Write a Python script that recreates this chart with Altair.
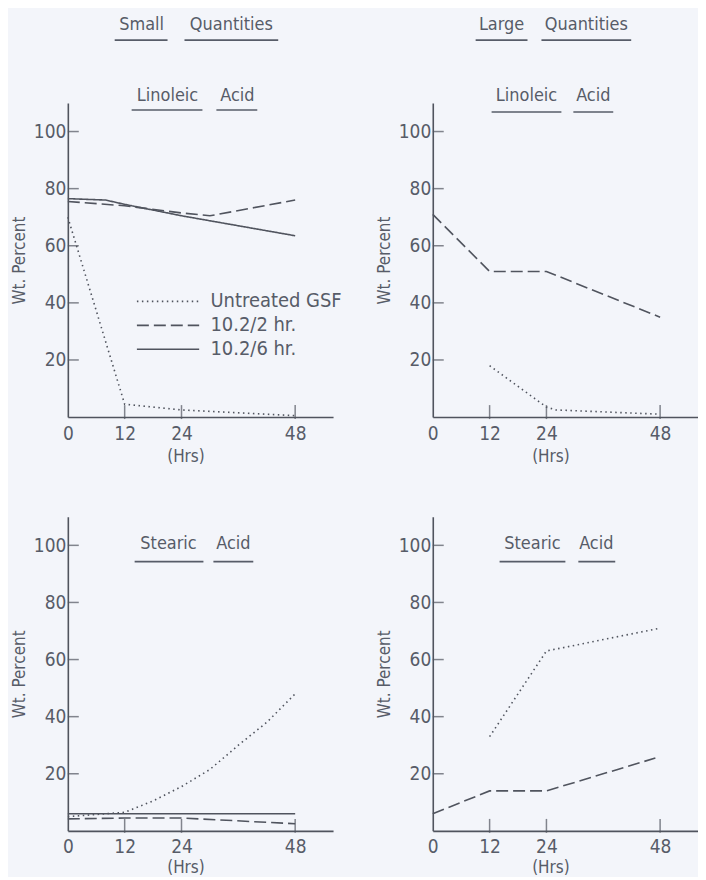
import altair as alt
import pandas as pd

SERIES = ["Untreated GSF", "10.2/2 hr.", "10.2/6 hr."]

# Small quantities - Linoleic acid
sl_untreated_h = [0, 12, 24, 48]
sl_untreated_v = [70, 4.5, 2.5, 0.5]
sl_2hr_h = [0, 12, 24, 30, 48]
sl_2hr_v = [75.5, 74, 71.5, 70.5, 76]
sl_6hr_h = [0, 8, 12, 24, 48]
sl_6hr_v = [76.5, 76, 74.5, 70.5, 63.5]

# Large quantities - Linoleic acid
ll_untreated_h = [12, 24, 26, 48]
ll_untreated_v = [18, 3.5, 2.5, 1]
ll_2hr_h = [0, 12, 24, 48]
ll_2hr_v = [71, 51, 51, 35]

# Small quantities - Stearic acid
ss_untreated_h = [0, 12, 18, 24, 30, 36, 42, 48]
ss_untreated_v = [5, 6.5, 10.5, 15.5, 21.5, 30, 38, 48]
ss_2hr_h = [0, 12, 24, 48]
ss_2hr_v = [4.2, 4.5, 4.5, 2.5]
ss_6hr_h = [0, 48]
ss_6hr_v = [6, 6]

# Large quantities - Stearic acid
ls_untreated_h = [12, 24, 48]
ls_untreated_v = [33, 63, 71]
ls_2hr_h = [0, 12, 24, 47]
ls_2hr_v = [6, 14, 14, 25.5]

Y_TICKS = [20, 40, 60, 80, 100]
X_LABELS = [0, 12, 24, 48]
X_TICKS = [12, 24, 48]

FONT = "DejaVu Sans Condensed, Liberation Sans Narrow, Roboto Condensed, Roboto, sans-serif"
INK = "#575c68"
LINE = "#50545e"
BG = "#f3f5fa"

W, H = 266, 315


def frame(parts):
    rows = []
    for name, hs, vs in parts:
        for h, v in zip(hs, vs):
            rows.append({"series": name, "h": h, "v": v})
    return pd.DataFrame(rows)


def panel(df, words, text_y, line_y, legend, title_y):
    x = alt.X("h:Q", scale=alt.Scale(domain=[0, 56], nice=False),
              axis=alt.Axis(values=X_LABELS, ticks=False, grid=False, labelPadding=7,
                            title="(Hrs)", titleX=118, titleY=title_y, titleAlign="center",
                            titleBaseline="middle", labelFlush=False))
    y = alt.Y("v:Q", scale=alt.Scale(domain=[0, 110], nice=False),
              axis=alt.Axis(values=Y_TICKS, ticks=False, grid=False, labelPadding=2,
                            title="Wt. Percent", titlePadding=5))
    if legend:
        leg = alt.Legend(title=None, orient="none", legendX=68, legendY=189,
                         symbolType="stroke", symbolSize=3900, symbolStrokeWidth=1.6,
                         symbolStrokeColor=LINE, labelFontSize=20, labelFont=FONT,
                         labelColor=INK, labelOffset=10, clipHeight=20, rowPadding=4,
                         labelLimit=300)
    else:
        leg = None
    lines = alt.Chart(df).mark_line(color=LINE, strokeWidth=1.6).encode(
        x=x, y=y,
        strokeDash=alt.StrokeDash("series:N",
                                  scale=alt.Scale(domain=SERIES,
                                                  range=[[1.5, 3.5], [12, 5], [1, 0]]),
                                  legend=leg),
    )
    yt = alt.Chart(pd.DataFrame({"h": [0] * len(Y_TICKS), "v": Y_TICKS})).mark_tick(
        orient="horizontal", size=11, thickness=1.5, xOffset=5.5, color=LINE
    ).encode(x="h:Q", y="v:Q")
    xt = alt.Chart(pd.DataFrame({"h": X_TICKS, "v": [0] * len(X_TICKS)})).mark_tick(
        orient="vertical", size=14, thickness=1.5, yOffset=-5, color=LINE
    ).encode(x="h:Q", y="v:Q")
    layers = [lines, yt, xt]
    one = pd.DataFrame({"k": [0]})
    for w, xc, x1, x2, size in words:
        layers.append(alt.Chart(one).mark_text(text=w, font=FONT, fontSize=size, color=INK,
                                               baseline="middle", align="center").encode(
            x=alt.value(xc), y=alt.value(text_y[w] if isinstance(text_y, dict) else text_y)))
        layers.append(alt.Chart(one).mark_rule(color=INK, strokeWidth=1.6).encode(
            x=alt.value(x1), x2=alt.value(x2),
            y=alt.value(line_y[w] if isinstance(line_y, dict) else line_y)))
    return alt.layer(*layers).properties(width=W, height=H)


df_sl = frame([(SERIES[0], sl_untreated_h, sl_untreated_v),
               (SERIES[1], sl_2hr_h, sl_2hr_v),
               (SERIES[2], sl_6hr_h, sl_6hr_v)])
df_ll = frame([(SERIES[0], ll_untreated_h, ll_untreated_v),
               (SERIES[1], ll_2hr_h, ll_2hr_v)])
df_ss = frame([(SERIES[0], ss_untreated_h, ss_untreated_v),
               (SERIES[1], ss_2hr_h, ss_2hr_v),
               (SERIES[2], ss_6hr_h, ss_6hr_v)])
df_ls = frame([(SERIES[0], ls_untreated_h, ls_untreated_v),
               (SERIES[1], ls_2hr_h, ls_2hr_v)])

tl_words = [("Small", 74, 47, 100, 18), ("Quantities", 164, 117, 211, 18),
            ("Linoleic", 100, 64, 135, 18), ("Acid", 170, 149, 190, 18)]
tl_ty = {"Small": -78, "Quantities": -78, "Linoleic": -7, "Acid": -7}
tl_ly = {"Small": -63, "Quantities": -63, "Linoleic": 7, "Acid": 7}

tr_words = [("Large", 69, 43, 95, 18), ("Quantities", 154, 109, 199, 18),
            ("Linoleic", 94, 59, 129, 18), ("Acid", 161, 141, 181, 18)]
tr_ty = {"Large": -78, "Quantities": -78, "Linoleic": -7, "Acid": -7}
tr_ly = {"Large": -63, "Quantities": -63, "Linoleic": 9, "Acid": 9}

bl_words = [("Stearic", 101, 67, 136, 18), ("Acid", 166, 146, 186, 18)]
br_words = [("Stearic", 100, 67, 133, 18), ("Acid", 164, 146, 183, 18)]

p1 = panel(df_sl, tl_words, tl_ty, tl_ly, True, 40)
p2 = panel(df_ll, tr_words, tr_ty, tr_ly, False, 40)
p3 = panel(df_ss, bl_words, 27, 45, False, 37)
p4 = panel(df_ls, br_words, 27, 45, False, 37)

chart = alt.concat(p1, p2, p3, p4, columns=2, spacing={"column": 100, "row": 100},
                   bounds="flush").resolve_scale(strokeDash="independent").resolve_legend(
    strokeDash="independent"
).properties(
    background=BG,
    padding={"left": 2, "top": 7, "right": 0, "bottom": 0},
).configure_view(strokeWidth=0).configure_axis(
    domainColor=LINE, domainWidth=1.6, labelFont=FONT, labelFontSize=19, labelColor=INK,
    titleFont=FONT, titleFontSize=17, titleFontWeight="normal", titleColor=INK,
)

chart.save("out.html", embed_options={"renderer": "svg", "actions": False})
